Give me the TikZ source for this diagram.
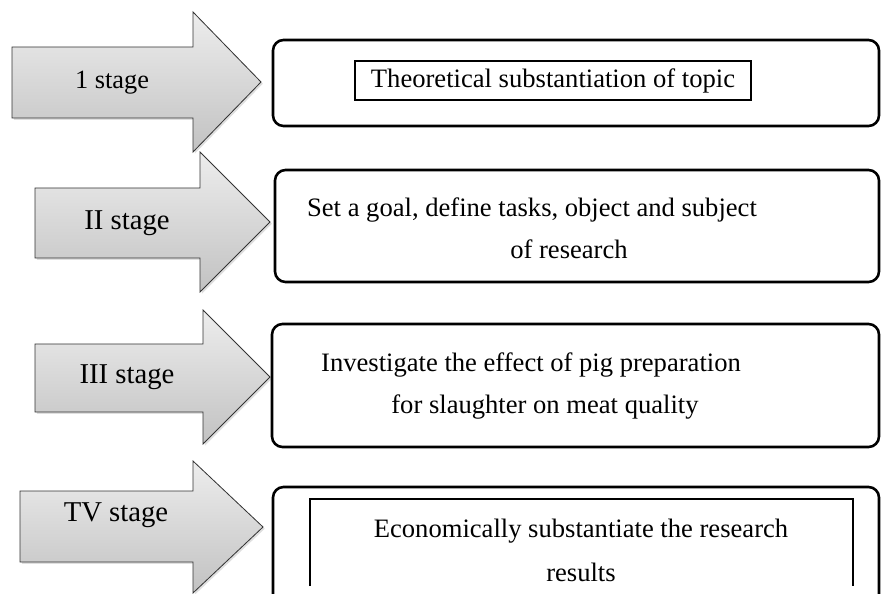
\documentclass[tikz,border=0pt]{standalone}
\usepackage{fontspec}
\setmainfont{Liberation Serif}
\usetikzlibrary{shadows}

\begin{document}
\begin{tikzpicture}[
  x=0.03cm, y=-0.03cm,
  stagearr/.style={draw=black!80,line width=0.7pt,top color=gray!14,bottom color=gray!48,
    drop shadow={opacity=0.25,shadow xshift=1.5pt,shadow yshift=-1.5pt}},
  frame/.style={draw=black,line width=2.2pt,rounded corners=9pt,fill=white},
  lbl/.style={anchor=base,inner sep=0pt,font=\fontsize{22.7}{30}\selectfont},
  stg/.style={lbl,font=\fontsize{24.5}{30}\selectfont},
  inbox/.style={draw,line width=1pt,inner sep=0pt,minimum width=11.88cm,minimum height=1.17cm,
    font=\fontsize{22.7}{30}\selectfont}
]
\useasboundingbox (0,0) rectangle (882,594);
\clip (0,0) rectangle (882,594);
% stage arrows
\draw[stagearr] (12,47) -- (193,47) -- (193,12) -- (261,82) -- (193,152) -- (193,118) -- (12,118) -- cycle;
\draw[stagearr] (35,188) -- (200,188) -- (200,152) -- (270,222) -- (200,292) -- (200,258) -- (35,258) -- cycle;
\draw[stagearr] (35,344) -- (203,344) -- (203,310) -- (270,377) -- (203,444) -- (203,412) -- (35,412) -- cycle;
\draw[stagearr] (20,491) -- (193,491) -- (193,461) -- (263,527) -- (193,593) -- (193,562) -- (20,562) -- cycle;
\node[stg,font=\fontsize{22.5}{26}\selectfont] (s1) at (112,89) {1 stage};
\node[stg] (s2) at (127,230) {II stage};
\node[stg] (s3) at (127,384) {III stage};
\node[stg] (s4) at (116,521) {TV stage};
% frames
\draw[frame] (273,40) rectangle (879,126);
\draw[frame] (275,170) rectangle (879,282);
\draw[frame] (272,324) rectangle (879,447);
\draw[frame] (273,487) rectangle (879,615);
\node[inbox] (t1) at (553,80.5) {Theoretical substantiation of topic};
\node[lbl] (t2a) at (532,217) {Set a goal, define tasks, object and subject};
\node[lbl] (t2b) at (569,259) {of research};
\node[lbl] (t3a) at (531,371) {Investigate the effect of pig preparation};
\node[lbl] (t3b) at (545,413) {for slaughter on meat quality};
\draw[line width=1.2pt] (310,586) -- (310,499) -- (853,499) -- (853,586);
\node[lbl] (t4a) at (581,537) {Economically substantiate the research};
\node[lbl] (t4b) at (581,581) {results};
\end{tikzpicture}
\end{document}
